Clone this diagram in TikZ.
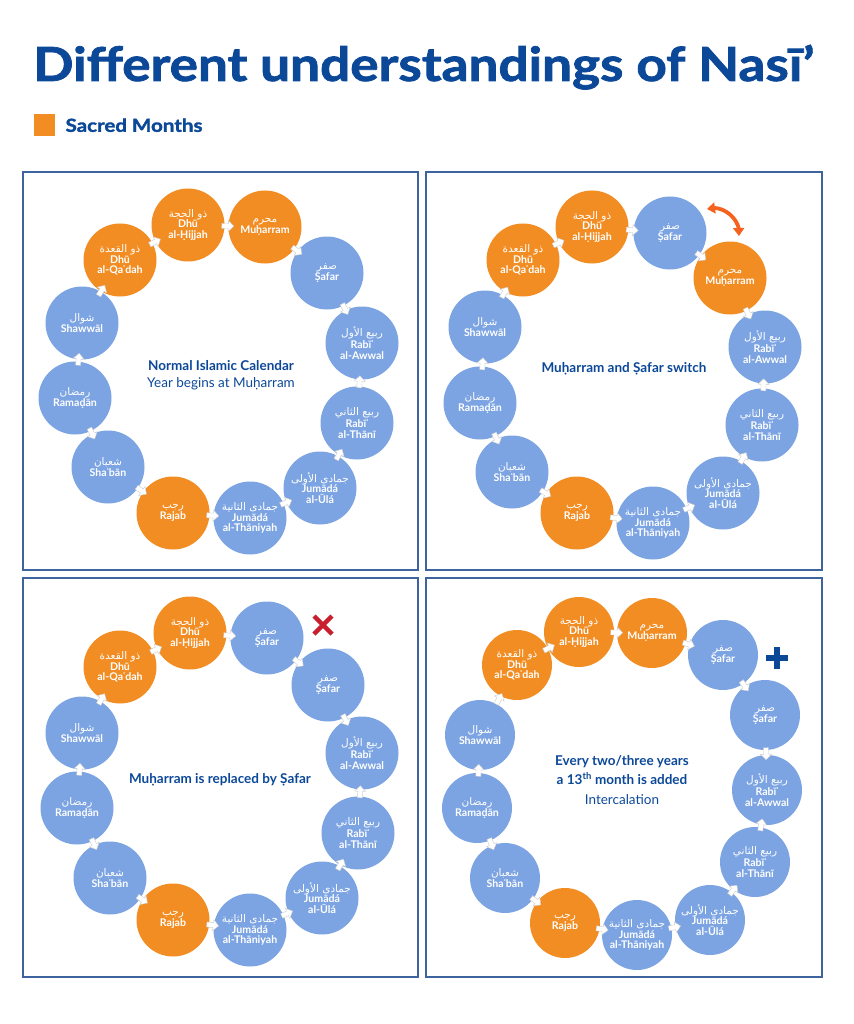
\documentclass[tikz,border=0pt]{standalone}
\usepackage{fontspec}
\setmainfont{Lato}
\newfontfamily\headfont{Lato}[BoldFeatures={FakeBold=1.6}]
\newfontfamily\arabicfont[Script=Arabic]{DejaVu Sans}
\TeXXeTstate=1
\usetikzlibrary{positioning,shapes.arrows,arrows.meta,bending}

\definecolor{navy}{RGB}{12,72,152}
\definecolor{sacredorange}{RGB}{242,141,35}
\definecolor{monthblue}{RGB}{124,164,226}
\definecolor{panelblue}{RGB}{62,100,160}
\definecolor{swaporange}{RGB}{244,98,30}
\definecolor{crossred}{RGB}{200,30,45}

% arabic name on top, transliteration below
\newcommand{\mname}[2]{{\arabicfont\mdseries\fontsize{10.5}{12}\selectfont\beginR#1\endR}\\[0pt]#2}

\tikzset{
  month/.style={circle, minimum size=73pt, inner sep=0pt, align=center, text=white,
    font=\bfseries\fontsize{10.6}{10.5}\selectfont},
  sacred/.style={month, fill=sacredorange},
  quiet/.style={month, fill=monthblue},
  flowmark/.style={single arrow, fill=white, draw=black!20, line width=.4pt, inner sep=2.3pt,
    minimum height=12pt, single arrow head extend=3pt, sloped},
  panel/.style={draw=panelblue, line width=1.6pt},
  caption/.style={text=navy, align=center, font=\fontsize{13.5}{17}\selectfont},
}

\begin{document}
\begin{tikzpicture}[x=1pt,y=-1pt]
  \useasboundingbox (0,0) rectangle (853,1024);
  \node[anchor=base west, text=navy, font=\headfont\bfseries\fontsize{47}{50}\selectfont, inner sep=0pt] (title) at (33,81) {\scalebox{1.13}[1]{Different understandings of Nasī’}};
  \node[fill=sacredorange, minimum width=21pt, minimum height=22pt, inner sep=0pt, anchor=north west] (key) at (34,114) {};
  \node[right=10pt of key, text=navy, font=\headfont\bfseries\fontsize{18}{20}\selectfont, inner sep=0pt] (keytext) {\scalebox{1.14}[1]{Sacred Months}};
  %
  \draw[panel] (23,172) rectangle (418,570);
  \draw[panel] (426,172) rectangle (822,570);
  \draw[panel] (23,578) rectangle (418,977);
  \draw[panel] (426,578) rectangle (822,977);
  %
  % normal calendar
  \begin{scope}[shift={(23,172)}]
    \node[sacred] (a1) at (97,88) {\mname{ذو القعدة}{Dhū\\al-Qaʿdah}};
    \node[sacred] (a2) at (165,53) {\mname{ذو الحجة}{Dhū\\al-Ḥijjah}};
    \node[sacred] (a3) at (242,55) {\mname{محرم}{Muḥarram}};
    \node[quiet] (a4) at (304,101) {\mname{صفر}{Ṣafar}};
    \node[quiet] (a5) at (339,171) {\mname{ربيع الأول}{Rabīʿ\\al-Awwal}};
    \node[quiet] (a6) at (334,251) {\mname{ربيع الثاني}{Rabīʿ\\al-Thānī}};
    \node[quiet] (a7) at (297,316) {\mname{جمادى الأولى}{Jumādá\\al-Ūlá}};
    \node[quiet] (a8) at (227,346) {\mname{جمادى الثانية}{Jumādá\\al-Thāniyah}};
    \node[sacred] (a9) at (150,341) {\mname{رجب}{Rajab}};
    \node[quiet] (a10) at (85,295) {\mname{شعبان}{Shaʿbān}};
    \node[quiet] (a11) at (52,226) {\mname{رمضان}{Ramaḍān}};
    \node[quiet] (a12) at (59,151) {\mname{شوال}{Shawwāl}};
    \foreach \i/\j in {1/2,2/3,3/4,4/5,5/6,6/7,7/8,8/9,9/10,10/11,11/12,12/1}
      \path (a\i.center) -- node[flowmark] {} (a\j.center);
    \node[caption] (acap) at (198,203) {\textbf{Normal Islamic Calendar}\\Year begins at Muḥarram};
  \end{scope}
  %
  % switch
  \begin{scope}[shift={(426,172)}]
    \node[sacred] (b1) at (97,88) {\mname{ذو القعدة}{Dhū\\al-Qaʿdah}};
    \node[sacred] (b2) at (166,55) {\mname{ذو الحجة}{Dhū\\al-Ḥijjah}};
    \node[quiet] (b3) at (244,61) {\mname{صفر}{Ṣafar}};
    \node[sacred] (b4) at (304,106) {\mname{محرم}{Muḥarram}};
    \node[quiet] (b5) at (339,175) {\mname{ربيع الأول}{Rabīʿ\\al-Awwal}};
    \node[quiet] (b6) at (336,253) {\mname{ربيع الثاني}{Rabīʿ\\al-Thānī}};
    \node[quiet] (b7) at (297,321) {\mname{جمادى الأولى}{Jumādá\\al-Ūlá}};
    \node[quiet] (b8) at (227,351) {\mname{جمادى الثانية}{Jumādá\\al-Thāniyah}};
    \node[sacred] (b9) at (151,341) {\mname{رجب}{Rajab}};
    \node[quiet] (b10) at (86,300) {\mname{شعبان}{Shaʿbān}};
    \node[quiet] (b11) at (54,231) {\mname{رمضان}{Ramaḍān}};
    \node[quiet] (b12) at (59,155) {\mname{شوال}{Shawwāl}};
    \foreach \i/\j in {1/2,2/3,3/4,4/5,5/6,6/7,7/8,8/9,9/10,10/11,11/12,12/1}
      \path (b\i.center) -- node[flowmark] {} (b\j.center);
    \coordinate (swapfrom) at (281,37);
    \coordinate (swapto) at (313,64);
    \draw[swaporange, line width=3.8pt, {Triangle[length=8pt,width=11pt]}-{Triangle[length=8pt,width=11pt]}] (swapfrom) to[bend left=60] (swapto);
    \node[caption, font=\bfseries\fontsize{13.5}{17}\selectfont] (bcap) at (198,197) {Muḥarram and Ṣafar switch};
  \end{scope}
  %
  % replaced
  \begin{scope}[shift={(23,578)}]
    \node[sacred] (c1) at (97,89) {\mname{ذو القعدة}{Dhū\\al-Qaʿdah}};
    \node[sacred] (c2) at (167,55) {\mname{ذو الحجة}{Dhū\\al-Ḥijjah}};
    \node[quiet] (c3) at (244,60) {\mname{صفر}{Ṣafar}};
    \node[quiet] (c4) at (305,107) {\mname{صفر}{Ṣafar}};
    \node[quiet] (c5) at (339,175) {\mname{ربيع الأول}{Rabīʿ\\al-Awwal}};
    \node[quiet] (c6) at (335,255) {\mname{ربيع الثاني}{Rabīʿ\\al-Thānī}};
    \node[quiet] (c7) at (299,320) {\mname{جمادى الأولى}{Jumādá\\al-Ūlá}};
    \node[quiet] (c8) at (227,352) {\mname{جمادى الثانية}{Jumādá\\al-Thāniyah}};
    \node[sacred] (c9) at (150,342) {\mname{رجب}{Rajab}};
    \node[quiet] (c10) at (87,300) {\mname{شعبان}{Shaʿbān}};
    \node[quiet] (c11) at (54,230) {\mname{رمضان}{Ramaḍān}};
    \node[quiet] (c12) at (59,155) {\mname{شوال}{Shawwāl}};
    \foreach \i/\j in {1/2,2/3,3/4,4/5,5/6,6/7,7/8,8/9,9/10,10/11,11/12,12/1}
      \path (c\i.center) -- node[flowmark] {} (c\j.center);
    \draw[crossred, line width=4.5pt] (291,38) -- (309,56) (291,56) -- (309,38);
    \node[caption, font=\bfseries\fontsize{13.5}{17}\selectfont] (ccap) at (197,202) {Muḥarram is replaced by Ṣafar};
  \end{scope}
  %
  % intercalation
  \begin{scope}[shift={(426,578)}, month/.append style={minimum size=70pt}]
    \node[sacred] (d1) at (91,87) {\mname{ذو القعدة}{Dhū\\al-Qaʿdah}};
    \node[sacred] (d2) at (153,54) {\mname{ذو الحجة}{Dhū\\al-Ḥijjah}};
    \node[sacred] (d3) at (226,55) {\mname{محرم}{Muḥarram}};
    \node[quiet] (d4) at (297,77) {\mname{صفر}{Ṣafar}};
    \node[quiet] (d5) at (339,137) {\mname{صفر}{Ṣafar}};
    \node[quiet] (d6) at (341,212) {\mname{ربيع الأول}{Rabīʿ\\al-Awwal}};
    \node[quiet] (d7) at (329,284) {\mname{ربيع الثاني}{Rabīʿ\\al-Thānī}};
    \node[quiet] (d8) at (284,342) {\mname{جمادى الأولى}{Jumādá\\al-Ūlá}};
    \node[quiet] (d9) at (211,357) {\mname{جمادى الثانية}{Jumādá\\al-Thāniyah}};
    \node[sacred] (d10) at (139,345) {\mname{رجب}{Rajab}};
    \node[quiet] (d11) at (79,300) {\mname{شعبان}{Shaʿbān}};
    \node[quiet] (d12) at (51,230) {\mname{رمضان}{Ramaḍān}};
    \node[quiet] (d13) at (54,157) {\mname{شوال}{Shawwāl}};
    \foreach \i/\j in {1/2,2/3,3/4,4/5,5/6,6/7,7/8,8/9,9/10,10/11,11/12,12/13,13/1}
      \path (d\i.center) -- node[flowmark] {} (d\j.center);
    \draw[navy, line width=6pt] (340,80) -- (362,80) (351,69) -- (351,91);
    \node[caption, font=\fontsize{13.5}{19.5}\selectfont] (dcap) at (196,202) {\textbf{Every two/three years}\\\textbf{a 13\textsuperscript{th} month is added}\\Intercalation};
  \end{scope}
\end{tikzpicture}
\end{document}
